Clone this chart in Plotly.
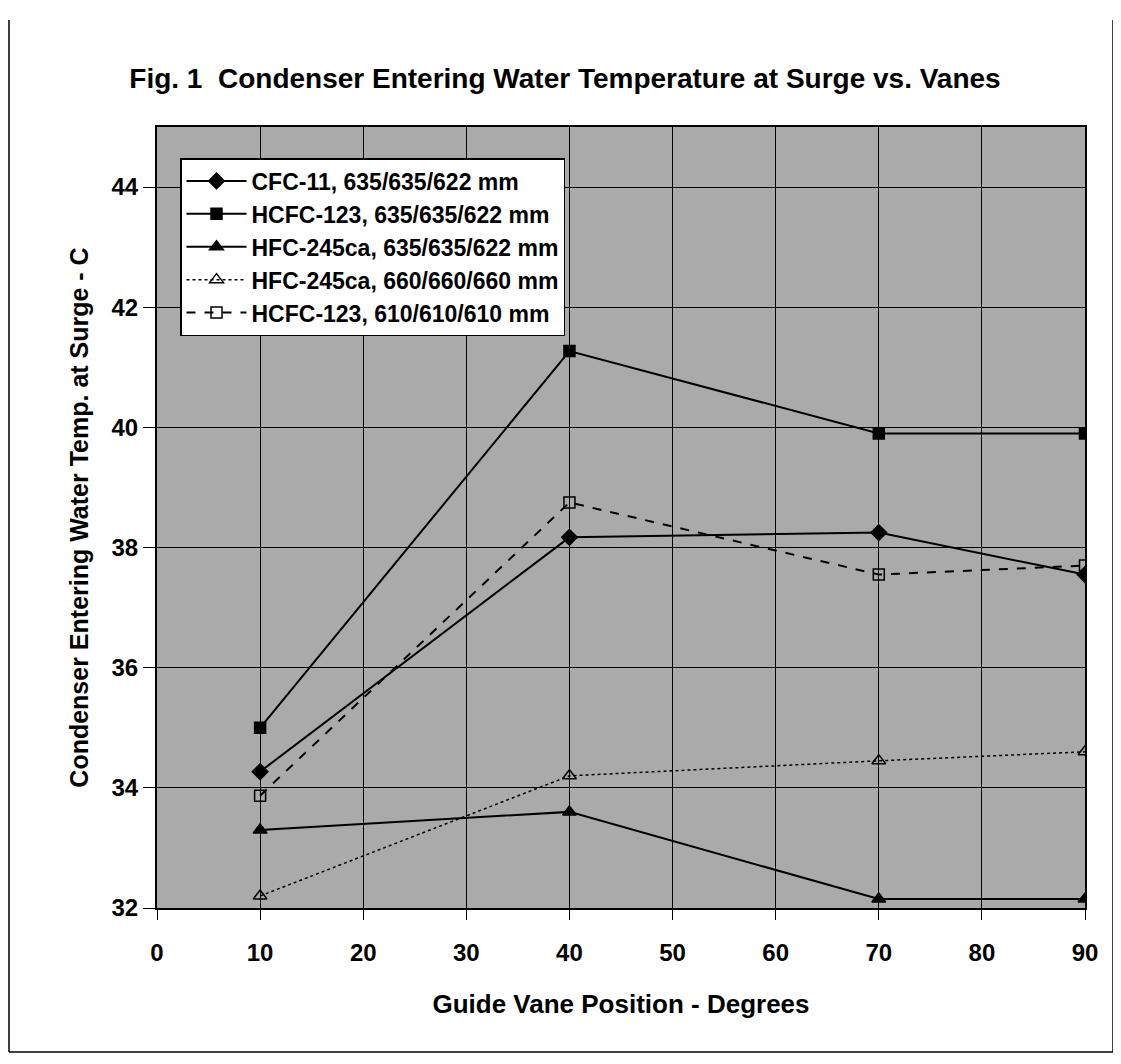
import plotly.graph_objects as go

vanes = [10, 40, 70, 90]
cfc11_635 = [34.27, 38.17, 38.25, 37.55]
hcfc123_635 = [35.0, 41.27, 39.9, 39.9]
hfc245ca_635 = [33.3, 33.6, 32.15, 32.15]
hfc245ca_660 = [32.2, 34.2, 34.45, 34.6]
hcfc123_610 = [33.87, 38.75, 37.55, 37.7]

names = [
    "CFC-11, 635/635/622 mm",
    "HCFC-123, 635/635/622 mm",
    "HFC-245ca, 635/635/622 mm",
    "HFC-245ca, 660/660/660 mm",
    "HCFC-123, 610/610/610 mm",
]
x_ticks = [0, 10, 20, 30, 40, 50, 60, 70, 80, 90]
y_ticks = [32, 34, 36, 38, 40, 42, 44]

series = [cfc11_635, hcfc123_635, hfc245ca_635, hfc245ca_660, hcfc123_610]
styles = [
    dict(dash="solid", symbol="diamond", width=2, size=12),
    dict(dash="solid", symbol="square", width=2, size=11),
    dict(dash="solid", symbol="triangle-up", width=2, size=12),
    dict(dash="dot", symbol="triangle-up-open", width=1.5, size=12),
    dict(dash="dash", symbol="square-open", width=2, size=11),
]

FONT = "Liberation Sans, Arial, sans-serif"

# page offset compensation (body margin of 8px)
OFF = 8
W, H = 1121 - OFF, 1064 - OFF
L, R, T, B = 157 - OFF, 36, 127 - OFF, 156
PW, PH = W - L - R, H - T - B

fig = go.Figure()
for name, ys, st in zip(names, series, styles):
    fig.add_trace(go.Scatter(
        x=vanes, y=ys, name=f"<b>{name}</b>", mode="lines+markers",
        line=dict(color="black", width=st["width"], dash=st["dash"]),
        marker=dict(symbol=st["symbol"], size=st["size"], color="black",
                    line=dict(color="black", width=1.5)),
    ))

fig.update_layout(
    width=W, height=H,
    paper_bgcolor="white",
    plot_bgcolor="#aaaaaa",
    margin=dict(l=L, r=R, t=T, b=B),
    font=dict(family=FONT, color="black"),
    title=dict(
        text="<b>Fig. 1  Condenser Entering Water Temperature at Surge vs. Vanes</b>",
        x=(565 - OFF - L) / PW, xanchor="center", xref="paper",
        y=1 - (78 - OFF) / H, yanchor="middle",
        font=dict(size=28, family=FONT, color="black"),
    ),
    xaxis=dict(
        range=[0, 90], tickvals=x_ticks,
        ticktext=[f"<b>{v}</b>" for v in x_ticks],
        tickfont=dict(size=24), ticks="outside", ticklen=10, tickcolor="black",
        ticklabelstandoff=12,
        showgrid=True, gridcolor="black", gridwidth=1,
        showline=True, linecolor="black", linewidth=2, mirror=True,
        zeroline=False,
        title=dict(text="<b>Guide Vane Position - Degrees</b>",
                   font=dict(size=26), standoff=30),
    ),
    yaxis=dict(
        range=[32, 45], tickvals=y_ticks,
        ticktext=[f"<b>{v}</b>" for v in y_ticks],
        tickfont=dict(size=24), ticks="outside", ticklen=12, tickcolor="black",
        showgrid=True, gridcolor="black", gridwidth=1,
        showline=True, linecolor="black", linewidth=2, mirror=True,
        zeroline=False,
        title=dict(text="<b>Condenser Entering Water Temp. at Surge - C</b>",
                   font=dict(size=25), standoff=16),
    ),
    legend=dict(
        x=(180 - OFF - L) / PW, y=(T + PH - (158 - OFF)) / PH,
        xanchor="left", yanchor="top",
        bgcolor="white", bordercolor="black", borderwidth=1.5,
        font=dict(size=23, family=FONT, color="black"),
        itemwidth=60, tracegroupgap=0,
    ),
    showlegend=True,
)

# page border (scan frame)
def px_to_paper(x, y):
    fx, fy = x - OFF, y - OFF
    return (fx - L) / PW, (T + PH - fy) / PH

for (x0, y0), (x1, y1) in [((9, 20), (9, 1052)), ((9, 1052), (1113, 1052)),
                           ((1113, 20), (1113, 1052))]:
    px0, py0 = px_to_paper(x0, y0)
    px1, py1 = px_to_paper(x1, y1)
    fig.add_shape(type="line", xref="paper", yref="paper",
                  x0=px0, x1=px1, y0=py0, y1=py1,
                  line=dict(color="black", width=1.5))

fig.write_html("out.html")
